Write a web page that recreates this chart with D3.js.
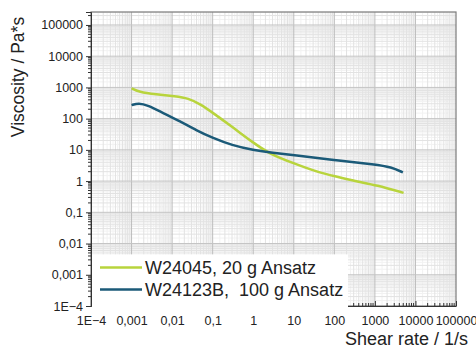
<!DOCTYPE html>
<html>
<head>
<meta charset="utf-8">
<script src="https://cdn.jsdelivr.net/npm/d3@7"></script>
<style>
  body { margin: 0; background: #fff; }
  svg { font-family: "Liberation Sans", Arial, sans-serif; }
</style>
</head>
<body>
<div id="chart"></div>
<script>
// data
var rateA = [0.001, 0.0015, 0.004, 0.012, 0.025, 0.05, 0.1, 0.3, 1, 2.5, 10, 36, 110, 350, 1100, 5100];
var viscA = [940, 720, 600, 520, 450, 290, 155, 55, 17, 7.5, 3.7, 2.0, 1.4, 0.98, 0.74, 0.42];
var rateB = [0.001, 0.0015, 0.0025, 0.006, 0.015, 0.04, 0.1, 0.3, 1, 3, 10, 94, 1100, 2500, 4900];
var viscB = [270, 320, 270, 150, 85, 42, 24, 14, 9.8, 8.0, 6.8, 4.7, 3.4, 2.8, 1.9];
var xTicks = [1e-4, 1e-3, 1e-2, 1e-1, 1, 10, 100, 1000, 1e4, 1e5];
var xTickLabels = ['1E\u22124', '0,001', '0,01', '0,1', '1', '10', '100', '1000', '10000', '100000'];
var yTicks = [1e-4, 1e-3, 1e-2, 1e-1, 1, 10, 100, 1000, 1e4, 1e5];
var yTickLabels = ['1E\u22124', '0,001', '0,01', '0,1', '1', '10', '100', '1000', '10000', '100000'];
var seriesNames = ['W24045, 20 g Ansatz', 'W24123B,  100 g Ansatz'];
var colors = ['#b8d43c', '#1b5a78'];

var W = 476, H = 349;
var m = {left: 91, top: 12, right: 20, bottom: 43};
var iw = W - m.left - m.right, ih = H - m.top - m.bottom;

var svg = d3.select('#chart').append('svg')
    .attr('width', W)
    .attr('height', H);

var x = d3.scaleLog().domain([1e-4, 1e5]).range([0, iw]);
var y = d3.scaleLog().domain([1e-4, 2.6e5]).range([ih, 0]);

var g = svg.append('g').attr('transform', 'translate(' + m.left + ',' + m.top + ')');

// grid: fine, minor and major
var fine = [], minor = [];
for (var e = -4; e < 6; e++) {
  for (var k = 1; k < 10; k++) {
    if (k > 1) minor.push(k * Math.pow(10, e));
    fine.push((k + 0.5) * Math.pow(10, e));
  }
}
var xFine = fine.filter(v => v > 1e-4 && v < 1e5);
var xMinor = minor.filter(v => v > 1e-4 && v < 1e5);
var yFine = fine.filter(v => v > 1e-4 && v < 2.6e5);
var yMinor = minor.filter(v => v > 1e-4 && v < 2.6e5);

function vlines(vals, col) {
  g.append('g').selectAll('line').data(vals).enter().append('line')
    .attr('x1', d => x(d)).attr('x2', d => x(d))
    .attr('y1', 0).attr('y2', ih)
    .style('stroke', col).style('stroke-width', 1);
}
function hlines(vals, col) {
  g.append('g').selectAll('line').data(vals).enter().append('line')
    .attr('y1', d => y(d)).attr('y2', d => y(d))
    .attr('x1', 0).attr('x2', iw)
    .style('stroke', col).style('stroke-width', 1);
}
vlines(xFine, '#f2f2f2');
hlines(yFine, '#f2f2f2');
vlines(xMinor, '#e2e2e2');
hlines(yMinor, '#e2e2e2');
vlines(xTicks.slice(1, -1), '#bdbdbd');
hlines(yTicks.slice(1), '#c4c4c4');

// frame
g.append('rect')
    .attr('width', iw).attr('height', ih)
    .style('fill', 'none')
    .style('stroke', '#7a7a7a')
    .style('stroke-width', 1.2);

// curves
var line = d3.line()
    .x(d => x(d[0]))
    .y(d => y(d[1]))
    .curve(d3.curveBasis);

var series = [d3.zip(rateA, viscA), d3.zip(rateB, viscB)];
g.selectAll('.curve').data(series).enter().append('path')
    .attr('class', 'curve')
    .attr('d', line)
    .style('fill', 'none')
    .style('stroke', (d, i) => colors[i])
    .style('stroke-width', 2.5);

// axes
var yAxis = g.append('g')
    .call(d3.axisLeft(y).tickValues(yTicks).tickFormat((d, i) => yTickLabels[i]).tickSize(5).tickPadding(3));
yAxis.append('g').selectAll('line').data(yMinor).enter().append('line')
    .attr('x1', -3).attr('x2', 0)
    .attr('y1', d => y(d)).attr('y2', d => y(d))
    .style('stroke', '#333');

var xAxis = g.append('g')
    .attr('transform', 'translate(0,' + ih + ')')
    .call(d3.axisBottom(x).tickValues(xTicks).tickFormat((d, i) => xTickLabels[i]).tickSizeInner(-5).tickSizeOuter(0).tickPadding(10));
xAxis.append('g').selectAll('line').data(xMinor).enter().append('line')
    .attr('x1', d => x(d)).attr('x2', d => x(d))
    .attr('y1', -3).attr('y2', 0)
    .style('stroke', '#333');

[yAxis, xAxis].forEach(a => {
  a.selectAll('.domain').style('stroke', '#333');
  a.selectAll('.tick line').style('stroke', '#333');
  a.selectAll('text').style('font-size', '12.5px').style('fill', '#222')
    .style('font-family', '"Liberation Sans", Arial, sans-serif');
});

// axis titles
svg.append('text')
    .attr('transform', 'translate(24,77) rotate(-90)')
    .attr('text-anchor', 'middle')
    .style('font-size', '17.5px')
    .style('fill', '#222')
    .text('Viscosity / Pa*s');

svg.append('text')
    .attr('x', 468).attr('y', 345)
    .attr('text-anchor', 'end')
    .style('font-size', '18px')
    .style('fill', '#222')
    .text('Shear rate / 1/s');

// legend
var leg = g.append('g').attr('transform', 'translate(1,' + (y(0.0045) ) + ')');
leg.append('rect')
    .attr('width', 256).attr('height', 54)
    .style('fill', '#fff');
var items = leg.selectAll('.item').data(seriesNames).enter().append('g')
    .attr('transform', (d, i) => 'translate(8,' + (13 + i * 22) + ')');
items.append('line')
    .attr('x1', 0).attr('x2', 42)
    .style('stroke', (d, i) => colors[i])
    .style('stroke-width', 2.5);
items.append('text')
    .attr('x', 45).attr('y', 6.5)
    .style('font-size', '18px')
    .style('white-space', 'pre')
    .style('fill', '#222')
    .text(d => d);
</script>
</body>
</html>
